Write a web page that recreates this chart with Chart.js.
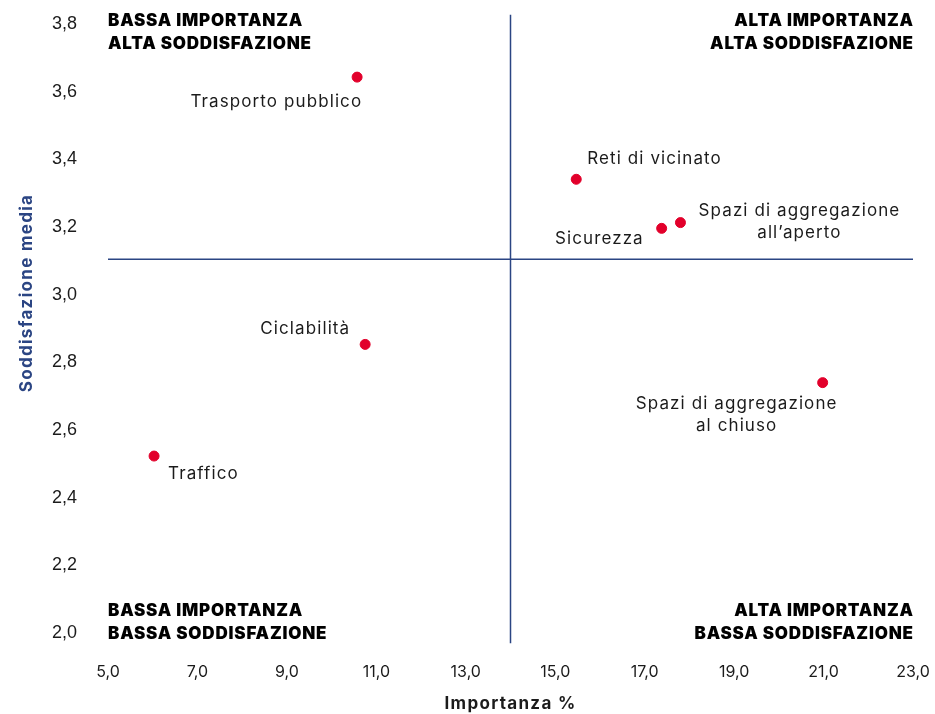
<!DOCTYPE html>
<html>
<head>
<meta charset="utf-8">
<script src="https://cdn.jsdelivr.net/npm/chart.js@4/dist/chart.umd.min.js"></script>
<style>
  html, body { margin: 0; padding: 0; background: #fff; }
  #wrap { width: 935px; height: 714px; }
</style>
</head>
<body>
<div id="wrap"><canvas id="chart" width="935" height="714"></canvas></div>
<script>
// dati
var categories = ['Trasporto pubblico', 'Reti di vicinato', 'Sicurezza', 'Spazi di aggregazione\nall\u2019aperto', 'Ciclabilit\u00e0', 'Spazi di aggregazione\nal chiuso', 'Traffico'];
var importanza = [10.57, 15.47, 17.38, 17.80, 10.75, 20.98, 6.03];
var soddisfazione = [3.643, 3.341, 3.196, 3.213, 2.853, 2.740, 2.523];
var xTicks = [5, 7, 9, 11, 13, 15, 17, 19, 21, 23];
var yTicks = [2.0, 2.2, 2.4, 2.6, 2.8, 3.0, 3.2, 3.4, 3.6, 3.8];
var soglie = [14.0, 3.105]; // linee dei quadranti: importanza, soddisfazione
var quadranti = [
  ['BASSA IMPORTANZA', 'ALTA SODDISFAZIONE'],
  ['ALTA IMPORTANZA', 'ALTA SODDISFAZIONE'],
  ['BASSA IMPORTANZA', 'BASSA SODDISFAZIONE'],
  ['ALTA IMPORTANZA', 'BASSA SODDISFAZIONE']
];

// dove mettere le etichette rispetto al punto: [dx, dy, align]
var labelPos = [
  [4, 25, 'right'],
  [11, -20, 'left'],
  [-19, 11, 'right'],
  [119, -12, 'center'],
  [-16, -16, 'right'],
  [-86, 21, 'center'],
  [14, 18, 'left']
];

var red = '#e2002b';
var navy = '#2b4583';
var ink = '#1b1b1b';

function fmt(v) { return v.toFixed(1).replace('.', ','); }

// niente spazio extra intorno all'area del grafico
function noPad(s) {
  s.paddingTop = 0; s.paddingBottom = 0; s.paddingLeft = 0; s.paddingRight = 0;
}

var points = importanza.map(function(x, i) { return { x: x, y: soddisfazione[i] }; });

var labelsPlugin = {
  id: 'labels',
  afterDatasetsDraw: function(chart) {
    var ctx = chart.ctx, xs = chart.scales.x, ys = chart.scales.y, area = chart.chartArea;
    ctx.save();
    ctx.textBaseline = 'middle';

    // nomi dei punti
    ctx.fillStyle = ink;
    ctx.font = '17px Inter';
    ctx.letterSpacing = '1.1px';
    points.forEach(function(p, i) {
      var px = xs.getPixelForValue(p.x), py = ys.getPixelForValue(p.y);
      var lp = labelPos[i];
      ctx.textAlign = lp[2];
      var shift = lp[2] === 'right' ? 1.1 : 0; // compensa lo spazio finale
      categories[i].split('\n').forEach(function(line, k) {
        ctx.fillText(line, px + lp[0] + shift, py + lp[1] + k * 22);
      });
    });

    // etichette dei quadranti
    ctx.fillStyle = '#000';
    ctx.font = '900 17px Inter';
    ctx.letterSpacing = '0.8px';
    var spots = [
      [area.left, area.top - 3, 'left'],
      [area.right + 0.8, area.top - 3, 'right'],
      [area.left, area.bottom - 22, 'left'],
      [area.right + 0.8, area.bottom - 22, 'right']
    ];
    quadranti.forEach(function(q, i) {
      ctx.textAlign = spots[i][2];
      q.forEach(function(line, k) {
        ctx.fillText(line, spots[i][0], spots[i][1] + k * 23);
      });
    });

    // titoli degli assi
    ctx.letterSpacing = '1.3px';
    ctx.font = '700 17px Inter';
    ctx.textAlign = 'center';
    ctx.fillStyle = ink;
    ctx.fillText('Importanza %', xs.getPixelForValue(soglie[0]), 704);
    ctx.translate(27, 293);
    ctx.rotate(-Math.PI / 2);
    ctx.fillStyle = navy;
    ctx.fillText('Soddisfazione media', 0, 0);
    ctx.restore();
  }
};

new Chart(document.getElementById('chart'), {
  type: 'scatter',
  data: {
    datasets: [
      {
        data: points,
        backgroundColor: red,
        borderColor: red,
        pointRadius: 5,
        pointHoverRadius: 5
      },
      {
        type: 'line',
        data: [{ x: soglie[0], y: 1.97 }, { x: soglie[0], y: 3.827 }],
        borderColor: navy,
        borderWidth: 1.5,
        pointRadius: 0,
        clip: false
      },
      {
        type: 'line',
        data: [{ x: 5, y: soglie[1] }, { x: 23, y: soglie[1] }],
        borderColor: navy,
        borderWidth: 1.5,
        pointRadius: 0,
        clip: false
      }
    ]
  },
  options: {
    responsive: false,
    animation: false,
    devicePixelRatio: 1,
    layout: { padding: { top: 24, right: 22, bottom: 0, left: 0 } },
    plugins: {
      legend: { display: false },
      tooltip: { enabled: false }
    },
    scales: {
      x: {
        type: 'linear',
        min: 5, max: 23,
        afterBuildTicks: function(s) { s.ticks = xTicks.map(function(v) { return { value: v }; }); },
        grid: { display: false, drawTicks: false },
        border: { display: false },
        ticks: {
          padding: 30,
          color: ink,
          font: { family: 'Inter', size: 16 },
          callback: function(v) { return fmt(v); }
        },
        afterFit: function(s) { s.height = 81; noPad(s); }
      },
      y: {
        type: 'linear',
        min: 2.0, max: 3.8,
        afterBuildTicks: function(s) { s.ticks = yTicks.map(function(v) { return { value: v }; }); },
        grid: { display: false, drawTicks: false },
        border: { display: false },
        ticks: {
          padding: 31,
          color: ink,
          font: { family: 'Liberation Sans', size: 18 },
          callback: function(v) { return fmt(v); }
        },
        afterFit: function(s) { s.width = 108; noPad(s); }
      }
    }
  },
  plugins: [labelsPlugin]
});
</script>
</body>
</html>
